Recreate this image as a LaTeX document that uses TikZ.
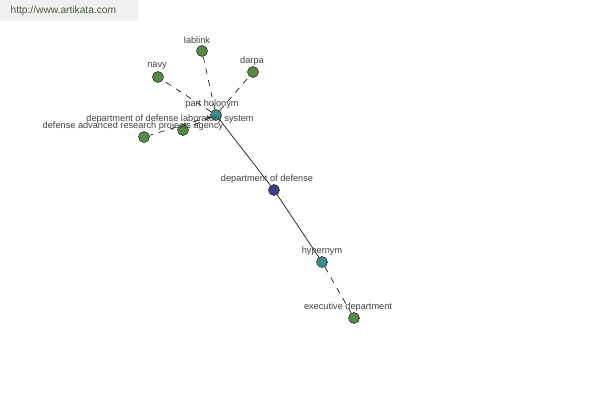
\documentclass[tikz,border=0pt]{standalone}
\usepackage{fontspec}
\setmainfont{Liberation Sans}
\usepackage{tikz}

\definecolor{leafgreen}{HTML}{558B45}
\definecolor{relteal}{HTML}{3F8C8A}
\definecolor{rootblue}{HTML}{3C4184}
\definecolor{sitegray}{HTML}{4A5A3A}

\tikzset{
  dot/.style={circle,draw=black!80,line width=0.6pt,minimum size=11pt,inner sep=0pt},
  leaf/.style={dot,fill=leafgreen},
  rel/.style={dot,fill=relteal},
  root/.style={dot,fill=rootblue},
  tag/.style={font=\fontsize{9.2}{10}\selectfont,text=black!75,inner sep=0pt},
}

\begin{document}
\begin{tikzpicture}[x=1pt,y=-1pt,line width=0.6pt]
		\useasboundingbox (0,0) rectangle (600,400);
		\fill[black!6] (0,0) rectangle (138,21);
		\node[anchor=west,font=\fontsize{10.2}{12}\selectfont,text=sitegray] (site) at (7,11) {http://www.artikata.com};
		\node[root] (dod) at (274,190) {};
		\node[rel] (holo) at (216,115) {};
		\node[rel] (hyper) at (322,262) {};
		\node[leaf] (lablink) at (202,51) {};
		\node[leaf] (navy) at (158,77) {};
		\node[leaf] (darpa) at (253,72) {};
		\node[leaf] (labsys) at (183,130) {};
		\node[leaf] (agency) at (144,137) {};
		\node[leaf] (exec) at (354,318) {};
		\path[draw]
			(dod) -- (holo)
			(dod) -- (hyper);
		\path[draw,dash pattern=on 6pt off 6pt]
			(holo) -- (lablink)
			(holo) -- (navy)
			(holo) -- (darpa)
			(holo) -- (labsys)
			(holo) -- (agency)
			(hyper) -- (exec);
		\node[tag] (t-lablink) at (197,40) {lablink};
		\node[tag] (t-navy) at (157,66) {navy};
		\node[tag] (t-darpa) at (252,61) {darpa};
		\node[tag] (t-holo) at (212,104) {part holonym};
		\node[tag] (t-labsys) at (170,119) {department of defense laboratory system};
		\node[tag] (t-agency) at (133,126) {defense advanced research projects agency};
		\node[tag] (t-dod) at (267,179) {department of defense};
		\node[tag] (t-hyper) at (322,251) {hypernym};
		\node[tag] (t-exec) at (348,307) {executive department};
	\end{tikzpicture}
\end{document}
